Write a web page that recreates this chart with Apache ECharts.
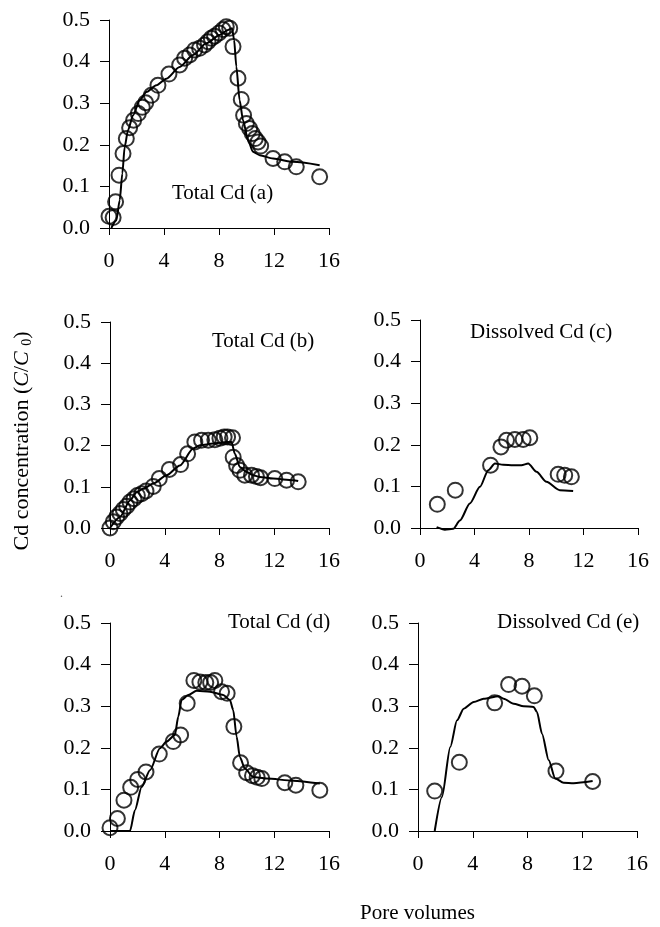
<!DOCTYPE html>
<html>
<head>
<meta charset="utf-8">
<script src="https://cdn.jsdelivr.net/npm/echarts@6/dist/echarts.min.js"></script>
<style>html,body{margin:0;padding:0;background:#fff;}#c{width:660px;height:927px;}</style>
</head>
<body>
<div id="c"></div>
<script>
// X tick labels / Y tick labels
var xTicks = [0, 4, 8, 12, 16];
var yTicks = [0.0, 0.1, 0.2, 0.3, 0.4, 0.5];

// Panel (a) Total Cd
var aObsX = [0.0, 0.3, 0.48, 0.73, 1.02, 1.26, 1.5, 1.79, 2.13, 2.42, 2.67, 3.08, 3.56, 4.36, 5.14, 5.5, 5.87, 6.23, 6.59, 6.95, 7.2, 7.44, 7.68, 8.0, 8.29, 8.53, 8.78, 9.02, 9.38, 9.62, 9.79, 9.99, 10.23, 10.42, 10.64, 10.84, 11.03, 11.93, 12.78, 13.62, 15.32];
var aObsY = [0.028, 0.025, 0.063, 0.127, 0.179, 0.215, 0.241, 0.259, 0.275, 0.290, 0.301, 0.319, 0.343, 0.370, 0.392, 0.408, 0.416, 0.428, 0.432, 0.440, 0.448, 0.456, 0.461, 0.469, 0.477, 0.484, 0.480, 0.436, 0.360, 0.309, 0.271, 0.251, 0.239, 0.227, 0.215, 0.207, 0.197, 0.167, 0.159, 0.147, 0.123];
var aFitX = [0.17, 0.53, 0.78, 0.97, 1.14, 1.38, 1.75, 2.23, 2.72, 3.44, 4.17, 5.14, 6.11, 7.08, 8.05, 8.65, 8.95, 9.1, 9.26, 9.5, 9.75, 10.11, 10.47, 10.96, 11.93, 13.38, 15.32];
var aFitY = [0.0, 0.018, 0.067, 0.131, 0.195, 0.235, 0.271, 0.307, 0.327, 0.343, 0.359, 0.387, 0.416, 0.444, 0.464, 0.476, 0.480, 0.452, 0.388, 0.307, 0.259, 0.211, 0.183, 0.175, 0.167, 0.159, 0.151];

// Panel (b) Total Cd
var bObsX = [0.0, 0.24, 0.49, 0.73, 0.97, 1.22, 1.46, 1.75, 2.0, 2.31, 2.63, 3.16, 3.6, 4.33, 5.16, 5.67, 6.2, 6.69, 7.18, 7.66, 8.03, 8.34, 8.59, 8.95, 9.0, 9.25, 9.49, 9.85, 10.34, 10.7, 11.0, 12.04, 12.9, 13.75];
var bObsY = [0.0, 0.015, 0.027, 0.035, 0.045, 0.053, 0.063, 0.071, 0.079, 0.083, 0.090, 0.101, 0.120, 0.142, 0.154, 0.180, 0.209, 0.213, 0.213, 0.214, 0.218, 0.221, 0.221, 0.219, 0.172, 0.152, 0.140, 0.128, 0.128, 0.125, 0.122, 0.120, 0.116, 0.112];
var bFitX = [0.0, 0.73, 1.46, 1.95, 2.43, 3.16, 4.14, 5.11, 6.08, 6.57, 7.54, 8.52, 8.88, 9.12, 9.49, 9.98, 10.46, 10.95, 11.92, 13.38, 13.75];
var bFitY = [0.0, 0.027, 0.067, 0.087, 0.095, 0.108, 0.128, 0.152, 0.193, 0.201, 0.205, 0.209, 0.209, 0.180, 0.148, 0.136, 0.128, 0.124, 0.120, 0.116, 0.114];

// Panel (c) Dissolved Cd
var cObsX = [1.27, 2.59, 5.18, 5.94, 6.35, 6.96, 7.57, 8.06, 10.14, 10.62, 11.11];
var cObsY = [0.057, 0.091, 0.151, 0.195, 0.211, 0.213, 0.213, 0.217, 0.129, 0.127, 0.123];
var cFitX = [1.22, 1.83, 2.44, 2.93, 3.66, 4.4, 5.01, 5.5, 6.11, 6.84, 7.45, 7.94, 8.55, 9.28, 10.26, 11.24];
var cFitY = [0.002, -0.004, -0.002, 0.018, 0.059, 0.099, 0.139, 0.155, 0.152, 0.151, 0.151, 0.155, 0.135, 0.111, 0.091, 0.089];

// Panel (d) Total Cd
var dObsX = [0.0, 0.54, 1.02, 1.51, 2.02, 2.63, 3.6, 4.62, 5.16, 5.64, 6.13, 6.57, 7.0, 7.35, 7.66, 8.15, 8.56, 9.05, 9.54, 9.98, 10.41, 10.75, 11.09, 12.77, 13.58, 15.33];
var dObsY = [0.008, 0.030, 0.074, 0.105, 0.124, 0.142, 0.185, 0.215, 0.231, 0.307, 0.362, 0.358, 0.357, 0.357, 0.362, 0.335, 0.331, 0.251, 0.164, 0.140, 0.133, 0.129, 0.126, 0.116, 0.110, 0.098];
var dFitX = [0.0, 1.46, 1.82, 2.31, 2.92, 3.65, 4.14, 4.74, 4.99, 5.23, 5.72, 6.33, 7.3, 8.27, 8.76, 9.0, 9.25, 9.49, 9.85, 10.46, 11.44, 13.38, 15.33];
var dFitY = [0.0, 0.0, 0.050, 0.106, 0.146, 0.199, 0.215, 0.231, 0.275, 0.315, 0.327, 0.337, 0.335, 0.327, 0.315, 0.291, 0.227, 0.178, 0.150, 0.130, 0.126, 0.121, 0.114];

// Panel (e) Dissolved Cd
var eObsX = [1.22, 3.02, 5.6, 6.62, 7.6, 8.5, 10.08, 12.76];
var eObsY = [0.096, 0.165, 0.308, 0.352, 0.348, 0.325, 0.144, 0.119];
var eFitX = [1.22, 1.75, 2.36, 2.85, 3.34, 4.07, 4.8, 5.89, 6.26, 6.99, 7.72, 8.45, 8.69, 9.06, 9.55, 10.03, 10.64, 11.37, 12.76];
var eFitY = [0.0, 0.082, 0.202, 0.266, 0.294, 0.310, 0.318, 0.324, 0.318, 0.306, 0.300, 0.298, 0.286, 0.234, 0.170, 0.126, 0.116, 0.115, 0.120];

var labelsText = ['Total Cd (a)', 'Total Cd (b)', 'Dissolved Cd (c)', 'Total Cd (d)', 'Dissolved Cd (e)'];

function zip(xs, ys) { return xs.map(function (x, i) { return [x, ys[i]]; }); }

var FONT = '"Liberation Serif", "Times New Roman", serif';
var panels = [
  { grid: { left: 109, top: 20, width: 220, height: 208 }, obs: zip(aObsX, aObsY), fit: zip(aFitX, aFitY) },
  { grid: { left: 110, top: 322, width: 219, height: 206 }, obs: zip(bObsX, bObsY), fit: zip(bFitX, bFitY) },
  { grid: { left: 420, top: 320, width: 218, height: 208 }, obs: zip(cObsX, cObsY), fit: zip(cFitX, cFitY) },
  { grid: { left: 110, top: 623, width: 219, height: 208 }, obs: zip(dObsX, dObsY), fit: zip(dFitX, dFitY) },
  { grid: { left: 418, top: 623, width: 219, height: 208 }, obs: zip(eObsX, eObsY), fit: zip(eFitX, eFitY) }
];

var grids = [], xAxes = [], yAxes = [], series = [];
panels.forEach(function (p, i) {
  grids.push(p.grid);
  xAxes.push({
    type: 'value', gridIndex: i, min: xTicks[0], max: xTicks[xTicks.length - 1], interval: 4,
    axisLine: { show: true, onZero: false, lineStyle: { color: '#000', width: 1 } },
    axisTick: { show: true, inside: false, length: 7, lineStyle: { color: '#000', width: 1 } },
    splitLine: { show: false },
    axisLabel: { color: '#000', fontFamily: FONT, fontSize: 22, margin: 22 }
  });
  yAxes.push({
    type: 'value', gridIndex: i, min: yTicks[0], max: yTicks[yTicks.length - 1], interval: 0.1,
    axisLine: { show: true, lineStyle: { color: '#000', width: 1 } },
    axisTick: { show: true, inside: false, length: 9, lineStyle: { color: '#000', width: 1 } },
    splitLine: { show: false },
    axisLabel: { color: '#000', fontFamily: FONT, fontSize: 22, margin: 19,
      formatter: function (v) { return v.toFixed(1); } }
  });
  series.push({
    type: 'line', xAxisIndex: i, yAxisIndex: i, data: p.fit, showSymbol: false, symbol: 'none',
    smooth: 0.25, smoothMonotone: 'x', clip: false,
    lineStyle: { color: '#000', width: 2 }, silent: true, z: 2
  });
  series.push({
    type: 'scatter', xAxisIndex: i, yAxisIndex: i, data: p.obs, symbol: 'circle', symbolSize: 15,
    itemStyle: { color: 'rgba(0,0,0,0)', borderColor: '#000', borderWidth: 2 }, silent: true, z: 3
  });
});

var graphics = [
  { type: 'text', left: 172, top: 183, style: { text: labelsText[0], fill: '#000', font: '21px ' + FONT } },
  { type: 'text', left: 212, top: 331, style: { text: labelsText[1], fill: '#000', font: '21px ' + FONT } },
  { type: 'text', left: 470, top: 322, style: { text: labelsText[2], fill: '#000', font: '21px ' + FONT } },
  { type: 'text', left: 228, top: 612, style: { text: labelsText[3], fill: '#000', font: '21px ' + FONT } },
  { type: 'text', left: 497, top: 612, style: { text: labelsText[4], fill: '#000', font: '21px ' + FONT } },
  { type: 'text', left: 360, top: 903, style: { text: 'Pore volumes', fill: '#000', font: '21px ' + FONT } },
  { type: 'text', left: 60, top: 588, style: { text: '.', fill: '#666', font: '12px ' + FONT } },
  {
    type: 'text', x: 22, y: 441, rotation: Math.PI / 2,
    style: {
      text: 'Cd concentration ({i|C}/{i|C} {s|0})',
      fill: '#000', font: '22px ' + FONT, align: 'center', verticalAlign: 'middle',
      rich: {
        i: { fontStyle: 'italic', fontFamily: FONT, fontSize: 22, fill: '#000' },
        s: { fontFamily: FONT, fontSize: 14, fill: '#000', verticalAlign: 'bottom', padding: [10, 0, 0, 0] }
      }
    }
  }
];

var chart = echarts.init(document.getElementById('c'), null, { renderer: 'canvas' });
chart.setOption({
  animation: false,
  backgroundColor: '#fff',
  grid: grids, xAxis: xAxes, yAxis: yAxes, series: series, graphic: graphics
});
</script>
</body>
</html>
